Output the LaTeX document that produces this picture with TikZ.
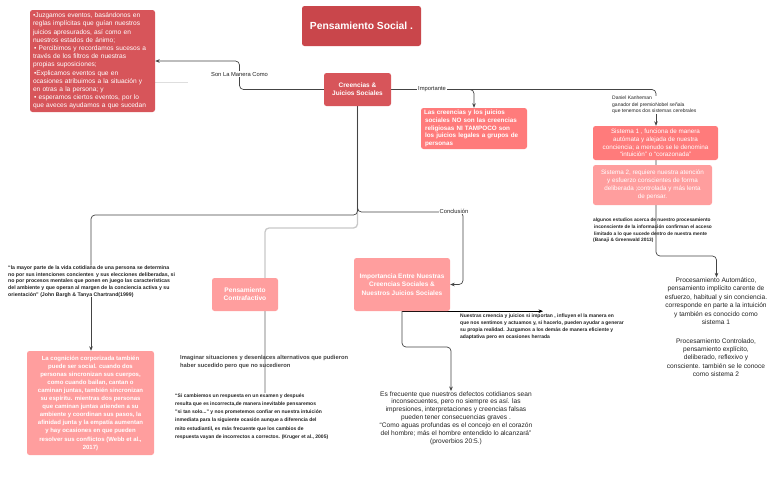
\documentclass[tikz,border=0pt]{standalone}
\usepackage{fontspec}
\setmainfont{Liberation Sans}
\usetikzlibrary{arrows.meta}
\definecolor{titlered}{HTML}{C9464B}
\definecolor{darkred}{HTML}{D7555A}
\definecolor{salmon}{HTML}{FF7B7B}
\definecolor{pinkbox}{HTML}{FF9E9E}
\definecolor{linec}{HTML}{444444}
\definecolor{lightline}{HTML}{C8C8C8}
\definecolor{txtc}{HTML}{222222}
\newcommand\fsz[2]{\fontsize{#1}{#2}\selectfont}
\pgfdeclarelayer{bg}
\pgfsetlayers{bg,main}
\tikzset{
 box/.style={rounded corners=2.5pt, inner sep=0pt, text=white, align=center},
 conn/.style={draw=linec, line width=0.7pt, rounded corners=4pt},
 light/.style={draw=lightline, line width=1.3pt, rounded corners=4pt},
 arr/.style={-{Stealth[length=4.5pt,width=3.6pt]}},
 lbl/.style={fill=white, inner sep=1pt, text=txtc, font=\fsz{5.8}{7}},
 note/.style={inner sep=0pt, text=txtc}
}
\begin{document}
\begin{tikzpicture}[x=1pt,y=-1pt]
\path[use as bounding box] (0,0) rectangle (768,480);

% boxes
\node[box, fill=titlered, minimum width=119pt, minimum height=40pt, font=\bfseries\fsz{10.3}{12}] (title) at (361.5,26) {Pensamiento Social .};
\node[box, fill=darkred, minimum width=67pt, minimum height=33pt, font=\bfseries\fsz{6.5}{8.2}] (cre) at (357.5,89.5) {Creencias \&\\Juicios Sociales};
\node[box, fill=darkred, minimum width=125pt, minimum height=102pt, text width=119pt, align=left, font=\fsz{6.6}{8.2}] (tl) at (92.5,61) {\textbullet Juzgamos eventos, basándonos en\\
reglas implícitas que guían nuestros\\
juicios apresurados, así como en\\
nuestros estados de ánimo;\\
\,\textbullet\ Percibimos y recordamos sucesos a\\
través de los filtros de nuestras\\
propias suposiciones;\\
\,\textbullet Explicamos eventos que en\\
ocasiones atribuimos a la situación y\\
en otras a la persona; y\\
\,\textbullet\ esperamos ciertos eventos, por lo\\
que aveces ayudamos a que sucedan};
\node[box, fill=salmon, minimum width=106pt, minimum height=41pt, text width=100pt, align=left, font=\bfseries\fsz{6.3}{7.6}] (cr2) at (474,128.5) {Las creencias y los juicios\\
\,sociales NO son las creencias\\
\,religiosas NI TAMPOCO son\\
\,los juicios legales a grupos de\\
\,personas};
\node[box, fill=salmon, minimum width=125pt, minimum height=34pt, font=\fsz{6.3}{7.8}] (s1) at (655.5,143) {Sistema 1 , funciona de manera\\
autómata y alejada de nuestra\\
conciencia; a menudo se le denomina\\
“intuición” o “corazonada”};
\node[box, fill=pinkbox, minimum width=119pt, minimum height=40pt, font=\fsz{6.3}{8}] (s2) at (652.5,185) {Sistema 2, requiere nuestra atención\\
y esfuerzo conscientes de forma\\
deliberada ;controlada y más lenta\\
de pensar.};
\node[box, fill=pinkbox, minimum width=96pt, minimum height=53pt, font=\bfseries\fsz{6.5}{8.3}] (imp) at (402,284.5) {Importancia Entre Nuestras\\
Creencias Sociales \&\\
Nuestros Juicios Sociales};
\node[box, fill=pinkbox, minimum width=66pt, minimum height=33pt, font=\bfseries\fsz{6.6}{8.2}] (cf) at (245,294.5) {Pensamiento\\Contrafactivo};
\node[box, fill=pinkbox, minimum width=127pt, minimum height=104pt, font=\bfseries\fsz{6}{8.1}] (cog) at (90.5,403) {La cognición corporizada también\\
puede ser social. cuando dos\\
personas sincronizan sus cuerpos,\\
como cuando bailan, cantan o\\
caminan juntas, también sincronizan\\
su espíritu. mientras dos personas\\
que caminan juntas atienden a su\\
ambiente y coordinan sus pasos, la\\
afinidad junta y la empatía aumentan\\
y hay ocasiones en que pueden\\
resolver sus conflictos (Webb et al.,\\
2017)};

% text notes
\node[note, anchor=west, align=left, font=\fsz{5}{6.5}] (kah) at (612,105) {Daniel Kanheman\\
ganador del premioNobel señala\\
que tenemos dos sistemas cerebrales};
\node[note, anchor=west, align=left, font=\bfseries\fsz{4.8}{6.6}] (alg) at (593,230.5) {algunos estudios acerca de nuestro procesamiento\\
\,inconsciente de la información confirman el acceso\\
\,limitado a lo que sucede dentro de nuestra mente\\
(Banaji \& Greenwald 2013)};
\node[note, align=center, font=\fsz{6.6}{8.4}] (procA) at (716,301) {Procesamiento Automático,\\
pensamiento implícito carente de\\
esfuerzo, habitual y sin conciencia.\\
corresponde en parte a la intuición\\
y también es conocido como\\
sistema 1};
\node[note, align=center, font=\fsz{6.6}{8.4}] (procC) at (716,357.5) {Procesamiento Controlado,\\
pensamiento explícito,\\
deliberado, reflexivo y\\
consciente. también se le conoce\\
como sistema 2};
\node[note, anchor=west, align=left, font=\bfseries\fsz{5.2}{6.6}] (qL) at (8,281.5) {“la mayor parte de la vida cotidiana de una persona se determina\\
no por sus intenciones concientes\, y sus elecciones deliberadas, si\\
no por procesos mentales que ponen en juego las características\\
del ambiente y que operan al margen de la conciencia activa y su\\
orientación” (John Bargh \& Tanya Chartrand(1999)};
\node[note, anchor=west, align=left, text=txtc!85, font=\bfseries\fsz{5.8}{8.5}] (imag) at (180,362) {Imaginar situaciones y desenlaces alternativos que pudieron\\
haber sucedido pero que no sucedieron};
\node[note, anchor=west, align=left, font=\bfseries\fsz{5}{8.3}] (sic) at (175,416.5) {“Si cambiemos un respuesta en un examen y después\\
resulta que es incorrecta,de manera inevitable pensaremos\\
"si tan solo..." y nos prometemos confiar en nuestra intuición\\
inmediata para la siguiente ocasión aunque a diferencia del\\
mito estudiantil, es más frecuente que los cambios de\\
respuesta vayan de incorrectos a correctos. (Kruger et al., 2005)};
\node[note, anchor=west, align=left, font=\bfseries\fsz{5}{6.9}] (nue) at (460,327) {Nuestras creencia y juicios si importan , influyen el la manera en\\
que nos sentimos y actuamos y, si hacerlo, pueden ayudar a generar\\
su propia realidad. Juzgamos a los demás de manera eficiente y\\
adaptativa pero en ocasiones herrada};
\node[note, align=center, font=\fsz{6.6}{7.9}] (esf) at (456,418) {Es frecuente que nuestros defectos cotidianos sean\\
inconsecuentes, pero no siempre es así. las\\
impresiones, interpretaciones y creencias falsas\\
pueden tener consecuencias graves .\\
“Como aguas profundas es el concejo en el corazón\\
del hombre; más el hombre entendido lo alcanzará”\\
(proverbios 20:5.)};

% labels
\node[lbl] (lson) at (239.5,74) {Son La Manera Como};
\node[lbl] (limp) at (432,89.5) {Importante};
\node[lbl] (lcon) at (454,211) {Conclusión};

% helper coordinates
\coordinate (kx) at (656,0);
\coordinate (cx2) at (474,0);
\coordinate (px) at (716.5,0);
\coordinate (qx) at (91,0);
\coordinate (cfx) at (265,0);
\coordinate (nx) at (543,0);
\coordinate (ex) at (451,0);
\coordinate (fe) at (188,82);

\begin{pgfonlayer}{bg}
\draw[conn,arr] (cre.west) -- (239.5,89.5) -- (239.5,61) -- (tl.east);
\draw[draw=lightline!60, line width=0.6pt] (tl.east |- fe) -- (fe);
\draw[conn] (cre.east) -- (656,89.5) -- (kah.north -| kx);
\draw[conn,arr] (cre.east) -- (474,89.5) -- (cr2.north -| cx2);
\draw[conn,arr] (kah.south -| kx) -- (s1.north -| kx);
\draw[conn,arr] (s1.south -| kx) -- (656,256) -- (716.5,256) -- (procA.north -| px);
\draw[light] (cre.south) -- (357.5,228) -- (265,228) -- (cf.north -| cfx);
\draw[light] (cf.south -| cfx) -- (sic.north -| cfx);
\draw[conn,arr] (cre.south) -- (357.5,212) -- (463,212) -- (463,284.5) -- (imp.east);
\draw[conn] (cre.south) -- (357.5,215) -- (91,215) -- (qL.north -| qx);
\draw[conn,arr] (qL.south -| qx) -- (cog.north -| qx);
\draw[draw=black, line width=1pt, arr] (imp.south) -- (imp.south -| nx);
\draw[conn,arr] (imp.south) -- (402,347) -- (451,347) -- (esf.north -| ex);
\end{pgfonlayer}
\end{tikzpicture}
\end{document}
